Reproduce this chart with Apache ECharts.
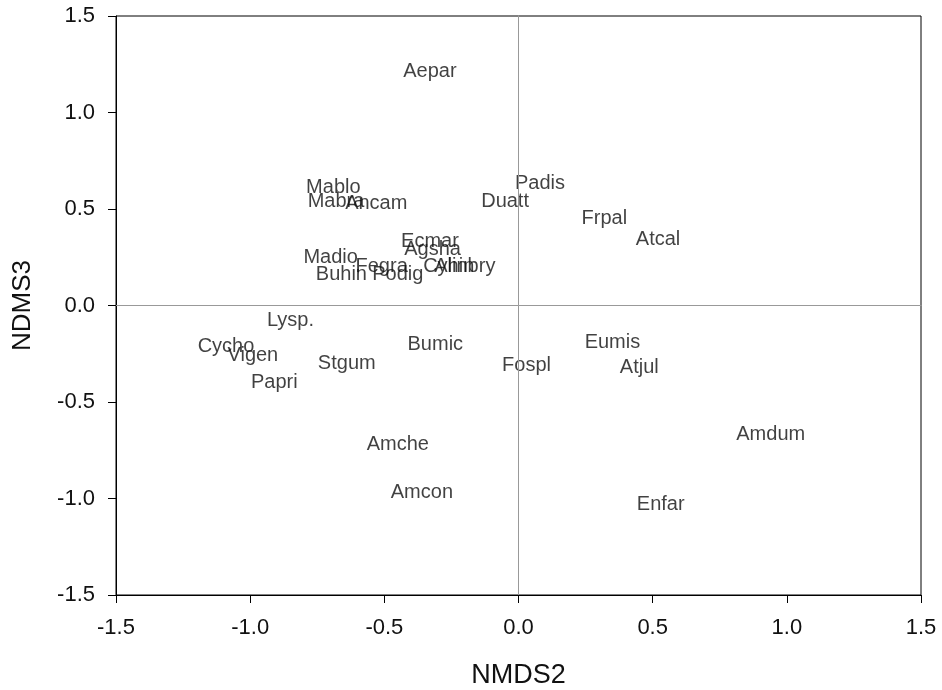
<!DOCTYPE html>
<html><head><meta charset="utf-8">
<script src="https://cdn.jsdelivr.net/npm/echarts@6/dist/echarts.min.js"></script>
<style>html,body{margin:0;padding:0;background:#fff}#c{width:942px;height:690px}</style>
</head><body><div id="c"></div>
<script>
const species = ["Aepar","Mablo","Mabra","Ancam","Padis","Duatt","Frpal","Atcal","Ecmar","Agsha","Madio","Fegra","Buhin","Podig","Cyhin","Alinbry","Lysp.","Cycho","Vigen","Stgum","Papri","Bumic","Fospl","Eumis","Atjul","Amdum","Amche","Amcon","Enfar"];
const nmds2 = [-0.33,-0.69,-0.68,-0.53,0.08,-0.05,0.32,0.52,-0.33,-0.32,-0.70,-0.51,-0.66,-0.45,-0.26,-0.20,-0.85,-1.09,-0.99,-0.64,-0.91,-0.31,0.03,0.35,0.45,0.94,-0.45,-0.36,0.53];
const nmds3 = [1.21,0.61,0.54,0.53,0.63,0.54,0.45,0.34,0.33,0.29,0.25,0.20,0.16,0.16,0.20,0.20,-0.08,-0.21,-0.26,-0.30,-0.40,-0.20,-0.31,-0.19,-0.32,-0.67,-0.72,-0.97,-1.03];
const ticks = [-1.5,-1.0,-0.5,0.0,0.5,1.0,1.5];

const chart = echarts.init(document.getElementById('c'));
const font = 'Arial, "Liberation Sans", sans-serif';
const axisCommon = {
  min: ticks[0], max: ticks[ticks.length-1], interval: 0.5,
  axisLine: {show: true, onZero: false, lineStyle: {color: '#000', width: 1}},
  axisTick: {show: true, length: 8, lineStyle: {color: '#000'}},
  splitLine: {show: false},
  axisLabel: {color: '#111', fontSize: 22, fontFamily: font, margin: 21, formatter: v => v.toFixed(1)},
  nameTextStyle: {color: '#111', fontSize: 26, fontFamily: font}
};
chart.setOption({
  animation: false,
  grid: {left: 116, right: 21, top: 16, bottom: 95, show: true, borderColor: '#000', borderWidth: 1,
    containLabel: false, outerBoundsMode: 'none'},
  xAxis: Object.assign({}, axisCommon, {type: 'value', name: 'NMDS2', nameLocation: 'middle', nameGap: 67,
    axisLabel: Object.assign({}, axisCommon.axisLabel, {margin: 22}),
    nameTextStyle: {color: '#111', fontSize: 27, fontFamily: font}}),
  yAxis: Object.assign({}, axisCommon, {type: 'value', name: 'NDMS3', nameLocation: 'middle', nameGap: 80}),
  series: [{
    type: 'scatter',
    symbolSize: 1,
    itemStyle: {color: 'rgba(0,0,0,0)'},
    data: species.map((s, i) => ({name: s, value: [nmds2[i], nmds3[i]]})),
    label: {show: true, position: 'inside', formatter: p => p.name, color: '#111', fontSize: 20, fontFamily: font},
    labelLayout: {hideOverlap: false},
    markLine: {
      silent: true, symbol: 'none', label: {show: false},
      lineStyle: {color: '#999', width: 1, type: 'solid'},
      data: [{xAxis: 0}, {yAxis: 0}]
    }
  }]
});
</script></body></html>
